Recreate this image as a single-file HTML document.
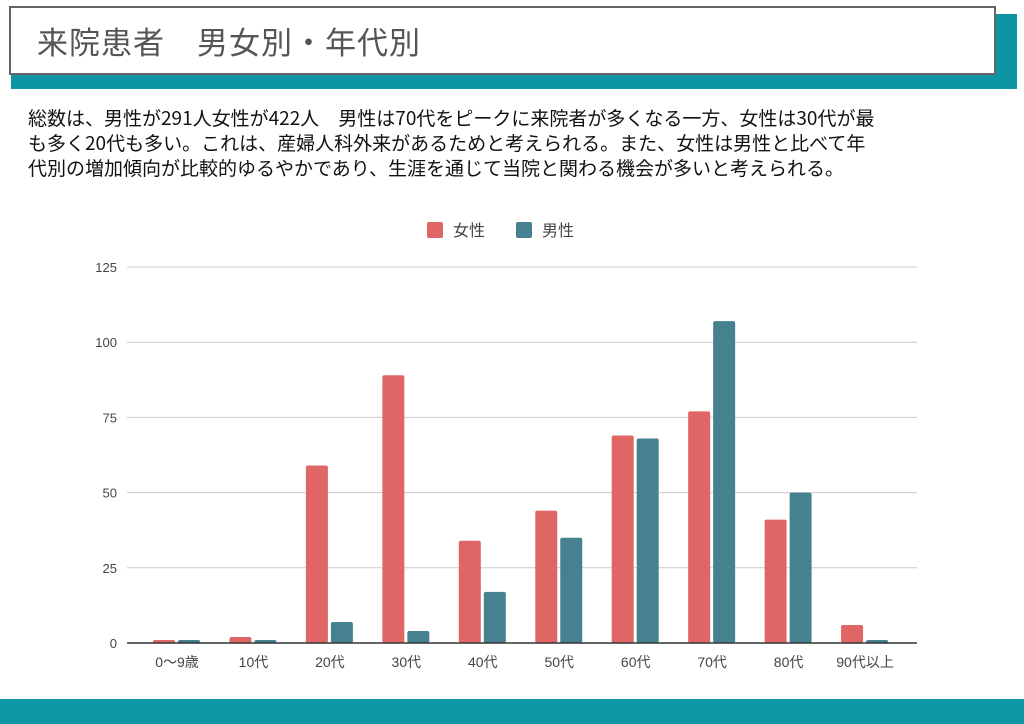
<!DOCTYPE html>
<html><head><meta charset="utf-8"><style>
body{margin:0;width:1024px;height:724px;position:relative;background:#fff;overflow:hidden;font-family:"Liberation Sans","Noto Sans CJK JP",sans-serif}
.shadow{position:absolute;left:11px;top:14px;width:1006px;height:75px;background:#0e95a4}
.hbox{position:absolute;left:9px;top:6px;width:987px;height:69px;background:#fff;border:2px solid #666;box-sizing:border-box}
.hbox span{position:absolute;left:26px;top:10px;font-size:31px;color:#555;letter-spacing:1px;font-family:"Noto Sans CJK JP",sans-serif}
.desc{position:absolute;left:28px;top:105px;width:1000px;font-size:19px;line-height:25px;color:#111;font-family:"Noto Sans CJK JP",sans-serif;white-space:nowrap}
.band{position:absolute;left:0;top:699px;width:1024px;height:25px;background:#0e97a6}
</style></head><body>
<div class="shadow"></div>
<div class="hbox"><span>来院患者　男女別・年代別</span></div>
<div class="desc">総数は、男性が291人女性が422人　男性は70代をピークに来院者が多くなる一方、女性は30代が最<br>も多く20代も多い。これは、産婦人科外来があるためと考えられる。また、女性は男性と比べて年<br>代別の増加傾向が比較的ゆるやかであり、生涯を通じて当院と関わる機会が多いと考えられる。</div>
<svg id="chart" width="1024" height="724" style="position:absolute;left:0;top:0" font-family="Liberation Sans, Noto Sans CJK JP, sans-serif"></svg>
<div class="band"></div>
<script>
const categories=["0〜9歳","10代","20代","30代","40代","50代","60代","70代","80代","90代以上"];
const femaleValues=[1,2,59,89,34,44,69,77,41,6];
const maleValues=[1,1,7,4,17,35,68,107,50,1];
const yTicks=[0,25,50,75,100,125];
const NS="http://www.w3.org/2000/svg";
const svg=document.getElementById('chart');
const y0=643,yTop=267,yMax=125;
const y=v=>y0-(v/yMax)*(y0-yTop);
const xc=i=>177+i*76.45;
function mk(t,a){const e=document.createElementNS(NS,t);for(const k in a)e.setAttribute(k,a[k]);svg.appendChild(e);return e;}
yTicks.forEach(t=>{
  if(t>0){const l=mk('line',{x1:127,x2:917,y1:y(t),y2:y(t),stroke:'#ccc','stroke-width':1});
  
  }
  const tx=mk('text',{x:117,y:y(t)+5,'text-anchor':'end','font-size':13,fill:'#444'});tx.textContent=t;
  
  
});
categories.forEach((c,i)=>{
  const f=mk('rect',{x:xc(i)-24,y:y(femaleValues[i]),width:22,height:y0-y(femaleValues[i]),fill:'#e06666',rx:2});
  
  
  const m=mk('rect',{x:xc(i)+1,y:y(maleValues[i]),width:22,height:y0-y(maleValues[i]),fill:'#45818e',rx:2});
  
  
  const t=mk('text',{x:xc(i),y:667,'text-anchor':'middle','font-size':14,fill:'#444'});t.textContent=c;
  
  
});
const ax=mk('line',{x1:127,x2:917,y1:y0,y2:y0,stroke:'#333','stroke-width':1.5});


const l1=mk('rect',{x:427,y:222,width:16,height:16,fill:'#e06666',rx:2});


const t1=mk('text',{x:453,y:236,'font-size':16,fill:'#444'});t1.textContent='女性';


const l2=mk('rect',{x:516,y:222,width:16,height:16,fill:'#45818e',rx:2});


const t2=mk('text',{x:542,y:236,'font-size':16,fill:'#444'});t2.textContent='男性';


</script>
</body></html>
